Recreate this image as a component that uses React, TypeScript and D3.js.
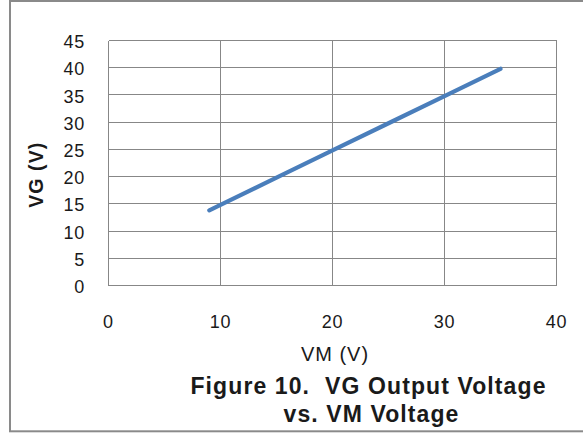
import React from "react";
import * as d3 from "d3";

const vmValues = [9, 10, 15, 20, 25, 30, 35];
const vgValues = [13.8, 14.8, 19.8, 24.8, 29.8, 34.8, 39.8];
const xTicks = [0, 10, 20, 30, 40];
const yTicks = [0, 5, 10, 15, 20, 25, 30, 35, 40, 45];
const xTitle = "VM (V)";
const yTitle = "VG (V)";
const captionLines = ["Figure 10.\u00a0\u00a0VG Output Voltage", "vs. VM Voltage"];

const W = 583;
const H = 434;
const FONT = "'Liberation Sans', Arial, sans-serif";

export default function App() {
  const x = d3.scaleLinear().domain([0, 40]).range([108.5, 556.5]);
  const y = d3.scaleLinear().domain([0, 45]).range([285.5, 40.5]);
  const pts = vmValues.map((v, i) => [v, vgValues[i]] as [number, number]);
  const line = d3
    .line<[number, number]>()
    .x((d) => x(d[0]))
    .y((d) => y(d[1]));
  const grid = "#878787";
  return (
    <svg
      width={W}
      height={H}
      style={{ position: "absolute", left: 0, top: 0, background: "#fff" }}
    >
      <rect x={10} y={1} width={640} height={430.3} fill="#fff" stroke="#8a8a8a" strokeWidth={2} />
      <g shapeRendering="crispEdges">
        {yTicks.map((t) => (
          <line key={"gy" + t} x1={x(0)} x2={x(40)} y1={y(t)} y2={y(t)} stroke={grid} strokeWidth={1} />
        ))}
        {xTicks.map((t) => (
          <line key={"gx" + t} x1={x(t)} x2={x(t)} y1={y(0)} y2={y(45)} stroke={grid} strokeWidth={1} />
        ))}
      </g>
      <path
        d={line(pts) || ""}
        fill="none"
        stroke="#4a7ebb"
        strokeWidth={4.2}
        strokeLinecap="round"
      />
      <g fontFamily={FONT} fill="#1a1a1a">
        {yTicks.map((t) => (
          <text key={"ly" + t} x={85} y={y(t) + 7.6} textAnchor="end" fontSize={18} letterSpacing={0.8}>
            {t}
          </text>
        ))}
        {xTicks.map((t) => (
          <text key={"lx" + t} x={x(t)} y={328.3} textAnchor="middle" fontSize={18} letterSpacing={0.8}>
            {t}
          </text>
        ))}
        <text x={335} y={360.5} textAnchor="middle" fontSize={20} letterSpacing={1}>
          {xTitle}
        </text>
        <text
          transform="translate(42.5,174.7) rotate(-90)"
          textAnchor="middle"
          fontSize={19.5}
          fontWeight="bold"
          letterSpacing={1.1}
        >
          {yTitle}
        </text>
        <text x={368.5} y={393.5} textAnchor="middle" fontSize={23} fontWeight="bold" letterSpacing={1.1}>
          {captionLines[0]}
        </text>
        <text x={371.5} y={421.7} textAnchor="middle" fontSize={23} fontWeight="bold" letterSpacing={1.1}>
          {captionLines[1]}
        </text>
      </g>
    </svg>
  );
}
